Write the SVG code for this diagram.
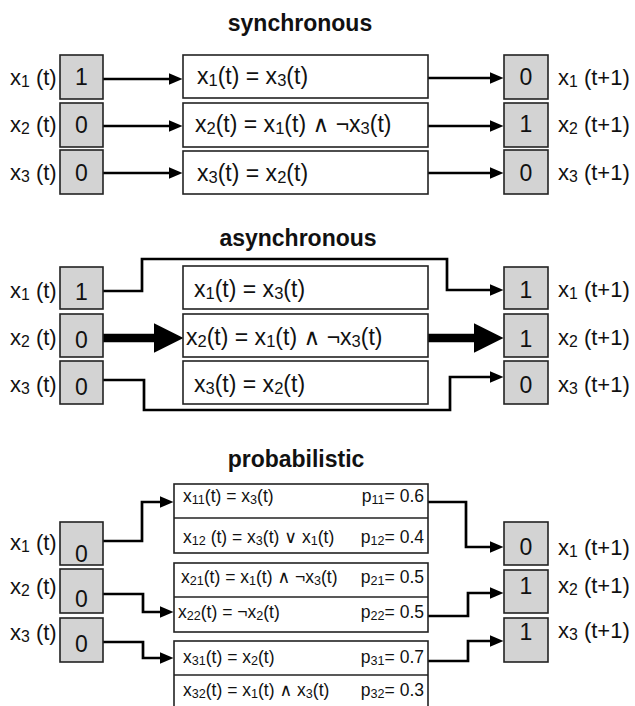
<svg xmlns="http://www.w3.org/2000/svg" width="635" height="706" viewBox="0 0 635 706">
<defs>
<style>
text{font-family:"Liberation Sans",Arial,"DejaVu Sans",sans-serif;fill:#111;}
.title{font-size:23px;font-weight:bold;text-anchor:middle;}
.t{font-size:22px;}
.f{font-size:23px;}
.d{font-size:23px;text-anchor:middle;}
.p{font-size:17.5px;}
.pe{font-size:17.5px;text-anchor:end;}
.s{font-size:72%;}
.g{fill:#d3d3d3;stroke:#222;stroke-width:1.6;}
.w{fill:#fff;stroke:#222;stroke-width:1.6;}
.c{fill:none;stroke:#000;stroke-width:2.7;}
.ct{fill:none;stroke:#000;stroke-width:8.5;}
</style>
<marker id="ah" markerUnits="userSpaceOnUse" markerWidth="14" markerHeight="12" viewBox="0 0 14 12" refX="0.5" refY="6" orient="auto"><path d="M0,0 L14,6 L0,12 z" fill="#000"/></marker>
<marker id="ahb" markerUnits="userSpaceOnUse" markerWidth="30" markerHeight="30" viewBox="0 0 30 30" refX="0.5" refY="15" orient="auto"><path d="M0,0 L30,15 L0,30 z" fill="#000"/></marker>
</defs>
<rect width="635" height="706" fill="#fff"/>

<!-- titles -->
<text class="title" x="300" y="31">synchronous</text>
<text class="title" x="298" y="246">asynchronous</text>
<text class="title" x="296" y="467">probabilistic</text>

<!-- connectors -->
<g id="connectors">
<path class="c" d="M103,79 H169" marker-end="url(#ah)"/>
<path class="c" d="M103,126 H169" marker-end="url(#ah)"/>
<path class="c" d="M103,173 H169" marker-end="url(#ah)"/>
<path class="c" d="M428,78 H490" marker-end="url(#ah)"/>
<path class="c" d="M428,126 H490" marker-end="url(#ah)"/>
<path class="c" d="M428,173 H490" marker-end="url(#ah)"/>

<path class="c" d="M103,291 H142 V259 H447 V290 H490" marker-end="url(#ah)"/>
<path class="ct" d="M103,338 H154" marker-end="url(#ahb)"/>
<path class="ct" d="M428,338 H474" marker-end="url(#ahb)"/>
<path class="c" d="M103,380 H144 V410 H450 V377 H490" marker-end="url(#ah)"/>

<path class="c" d="M103,541 H142 V502 H160" marker-end="url(#ah)"/>
<path class="c" d="M103,594 H143 V612 H160" marker-end="url(#ah)"/>
<path class="c" d="M103,642 H143 V658 H160" marker-end="url(#ah)"/>
<path class="c" d="M428,502 H466 V547 H490" marker-end="url(#ah)"/>
<path class="c" d="M428,616 H468 V593 H490" marker-end="url(#ah)"/>
<path class="c" d="M428,661 H468 V641 H490" marker-end="url(#ah)"/>
</g>

<!-- synchronous -->
<g id="sync-x1-t">
<rect class="g" x="60" y="55" width="43" height="44"/>
<text class="t" x="10" y="85">x<tspan class="s" dy="2">1</tspan><tspan dy="-2"> (t)</tspan></text>
<text class="d" x="81.5" y="85">1</text>
</g>
<g id="sync-x2-t">
<rect class="g" x="60" y="103" width="43" height="44"/>
<text class="t" x="10" y="132">x<tspan class="s" dy="2">2</tspan><tspan dy="-2"> (t)</tspan></text>
<text class="d" x="81.5" y="133">0</text>
</g>
<g id="sync-x3-t">
<rect class="g" x="60" y="150" width="43" height="44"/>
<text class="t" x="10" y="180">x<tspan class="s" dy="2">3</tspan><tspan dy="-2"> (t)</tspan></text>
<text class="d" x="81.5" y="181">0</text>
</g>
<g id="sync-f1">
<rect class="w" x="183" y="55" width="245" height="43"/>
<text class="f" x="197" y="84">x<tspan class="s" dy="2">1</tspan><tspan dy="-2">(t) = x</tspan><tspan class="s" dy="2">3</tspan><tspan dy="-2">(t)</tspan></text>
</g>
<g id="sync-f2">
<rect class="w" x="183" y="103" width="245" height="44"/>
<text class="f" x="195" y="132">x<tspan class="s" dy="2">2</tspan><tspan dy="-2">(t) = x</tspan><tspan class="s" dy="2">1</tspan><tspan dy="-2">(t) ∧ ¬x</tspan><tspan class="s" dy="2">3</tspan><tspan dy="-2">(t)</tspan></text>
</g>
<g id="sync-f3">
<rect class="w" x="183" y="151" width="245" height="43"/>
<text class="f" x="197" y="181">x<tspan class="s" dy="2">3</tspan><tspan dy="-2">(t) = x</tspan><tspan class="s" dy="2">2</tspan><tspan dy="-2">(t)</tspan></text>
</g>
<g id="sync-x1-t1">
<rect class="g" x="504" y="55" width="44" height="44"/>
<text class="d" x="526" y="85">0</text>
<text class="t" x="558" y="85">x<tspan class="s" dy="2">1</tspan><tspan dy="-2"> (t+1)</tspan></text>
</g>
<g id="sync-x2-t1">
<rect class="g" x="504" y="103" width="44" height="44"/>
<text class="d" x="526" y="132">1</text>
<text class="t" x="558" y="132">x<tspan class="s" dy="2">2</tspan><tspan dy="-2"> (t+1)</tspan></text>
</g>
<g id="sync-x3-t1">
<rect class="g" x="504" y="150" width="44" height="44"/>
<text class="d" x="526" y="181">0</text>
<text class="t" x="558" y="180">x<tspan class="s" dy="2">3</tspan><tspan dy="-2"> (t+1)</tspan></text>
</g>

<!-- asynchronous -->
<g id="async-x1-t">
<rect class="g" x="60" y="267" width="43" height="42"/>
<text class="t" x="10" y="298">x<tspan class="s" dy="2">1</tspan><tspan dy="-2"> (t)</tspan></text>
<text class="d" x="81.5" y="300">1</text>
</g>
<g id="async-x2-t">
<rect class="g" x="60" y="314" width="43" height="43"/>
<text class="t" x="10" y="345">x<tspan class="s" dy="2">2</tspan><tspan dy="-2"> (t)</tspan></text>
<text class="d" x="81.5" y="348">0</text>
</g>
<g id="async-x3-t">
<rect class="g" x="60" y="361" width="43" height="43"/>
<text class="t" x="10" y="392">x<tspan class="s" dy="2">3</tspan><tspan dy="-2"> (t)</tspan></text>
<text class="d" x="81.5" y="395">0</text>
</g>
<g id="async-f1">
<rect class="w" x="183" y="266" width="245" height="43"/>
<text class="f" x="194" y="297">x<tspan class="s" dy="2">1</tspan><tspan dy="-2">(t) = x</tspan><tspan class="s" dy="2">3</tspan><tspan dy="-2">(t)</tspan></text>
</g>
<g id="async-f2">
<rect class="w" x="183" y="314" width="245" height="43"/>
<text class="f" x="186" y="345">x<tspan class="s" dy="2">2</tspan><tspan dy="-2">(t) = x</tspan><tspan class="s" dy="2">1</tspan><tspan dy="-2">(t) ∧ ¬x</tspan><tspan class="s" dy="2">3</tspan><tspan dy="-2">(t)</tspan></text>
</g>
<g id="async-f3">
<rect class="w" x="183" y="361" width="245" height="43"/>
<text class="f" x="194" y="392">x<tspan class="s" dy="2">3</tspan><tspan dy="-2">(t) = x</tspan><tspan class="s" dy="2">2</tspan><tspan dy="-2">(t)</tspan></text>
</g>
<g id="async-x1-t1">
<rect class="g" x="504" y="267" width="44" height="42"/>
<text class="d" x="526" y="298">1</text>
<text class="t" x="558" y="297">x<tspan class="s" dy="2">1</tspan><tspan dy="-2"> (t+1)</tspan></text>
</g>
<g id="async-x2-t1">
<rect class="g" x="504" y="314" width="44" height="43"/>
<text class="d" x="526" y="347">1</text>
<text class="t" x="558" y="345">x<tspan class="s" dy="2">2</tspan><tspan dy="-2"> (t+1)</tspan></text>
</g>
<g id="async-x3-t1">
<rect class="g" x="504" y="361" width="44" height="43"/>
<text class="d" x="526" y="393">0</text>
<text class="t" x="558" y="392">x<tspan class="s" dy="2">3</tspan><tspan dy="-2"> (t+1)</tspan></text>
</g>

<!-- probabilistic -->
<g id="prob-x1-t">
<rect class="g" x="60" y="522" width="43" height="43"/>
<text class="t" x="10" y="550">x<tspan class="s" dy="2">1</tspan><tspan dy="-2"> (t)</tspan></text>
<text class="d" x="81.5" y="562">0</text>
</g>
<g id="prob-x2-t">
<rect class="g" x="60" y="569" width="43" height="44"/>
<text class="t" x="10" y="594">x<tspan class="s" dy="2">2</tspan><tspan dy="-2"> (t)</tspan></text>
<text class="d" x="81.5" y="607">0</text>
</g>
<g id="prob-x3-t">
<rect class="g" x="60" y="618" width="43" height="44"/>
<text class="t" x="10" y="640">x<tspan class="s" dy="2">3</tspan><tspan dy="-2"> (t)</tspan></text>
<text class="d" x="81.5" y="652">0</text>
</g>
<g id="prob-f1">
<rect class="w" x="174" y="484" width="254" height="69"/>
<line x1="174" y1="518" x2="428" y2="518" stroke="#222" stroke-width="1.6"/>
<text class="p" x="183" y="502">x<tspan class="s" dy="2">11</tspan><tspan dy="-2">(t) = x</tspan><tspan class="s" dy="2">3</tspan><tspan dy="-2">(t)</tspan></text>
<text class="pe" x="424" y="502">p<tspan class="s" dy="2">11</tspan><tspan dy="-2">= 0.6</tspan></text>
<text class="p" x="183" y="543">x<tspan class="s" dy="2">12</tspan><tspan dy="-2"> (t) = x</tspan><tspan class="s" dy="2">3</tspan><tspan dy="-2">(t) ∨ x</tspan><tspan class="s" dy="2">1</tspan><tspan dy="-2">(t)</tspan></text>
<text class="pe" x="424" y="543">p<tspan class="s" dy="2">12</tspan><tspan dy="-2">= 0.4</tspan></text>
</g>
<g id="prob-f2">
<rect class="w" x="174" y="563" width="254" height="69"/>
<line x1="174" y1="597" x2="428" y2="597" stroke="#222" stroke-width="1.6"/>
<text class="p" x="181" y="583">x<tspan class="s" dy="2">21</tspan><tspan dy="-2">(t) = x</tspan><tspan class="s" dy="2">1</tspan><tspan dy="-2">(t) ∧ ¬x</tspan><tspan class="s" dy="2">3</tspan><tspan dy="-2">(t)</tspan></text>
<text class="pe" x="424" y="583">p<tspan class="s" dy="2">21</tspan><tspan dy="-2">= 0.5</tspan></text>
<text class="p" x="178" y="618">x<tspan class="s" dy="2">22</tspan><tspan dy="-2">(t) = ¬x</tspan><tspan class="s" dy="2">2</tspan><tspan dy="-2">(t)</tspan></text>
<text class="pe" x="424" y="618">p<tspan class="s" dy="2">22</tspan><tspan dy="-2">= 0.5</tspan></text>
</g>
<g id="prob-f3">
<rect class="w" x="174" y="641" width="254" height="70"/>
<line x1="174" y1="675" x2="428" y2="675" stroke="#222" stroke-width="1.6"/>
<text class="p" x="183" y="663">x<tspan class="s" dy="2">31</tspan><tspan dy="-2">(t) = x</tspan><tspan class="s" dy="2">2</tspan><tspan dy="-2">(t)</tspan></text>
<text class="pe" x="424" y="663">p<tspan class="s" dy="2">31</tspan><tspan dy="-2">= 0.7</tspan></text>
<text class="p" x="183" y="696">x<tspan class="s" dy="2">32</tspan><tspan dy="-2">(t) = x</tspan><tspan class="s" dy="2">1</tspan><tspan dy="-2">(t) ∧ x</tspan><tspan class="s" dy="2">3</tspan><tspan dy="-2">(t)</tspan></text>
<text class="pe" x="424" y="696">p<tspan class="s" dy="2">32</tspan><tspan dy="-2">= 0.3</tspan></text>
</g>
<g id="prob-x1-t1">
<rect class="g" x="504" y="522" width="44" height="43"/>
<text class="d" x="526" y="555">0</text>
<text class="t" x="558" y="555">x<tspan class="s" dy="2">1</tspan><tspan dy="-2"> (t+1)</tspan></text>
</g>
<g id="prob-x2-t1">
<rect class="g" x="504" y="570" width="44" height="43"/>
<text class="d" x="526" y="594">1</text>
<text class="t" x="558" y="593">x<tspan class="s" dy="2">2</tspan><tspan dy="-2"> (t+1)</tspan></text>
</g>
<g id="prob-x3-t1">
<rect class="g" x="504" y="618" width="44" height="44"/>
<text class="d" x="526" y="640">1</text>
<text class="t" x="558" y="638">x<tspan class="s" dy="2">3</tspan><tspan dy="-2"> (t+1)</tspan></text>
</g>
</svg>
